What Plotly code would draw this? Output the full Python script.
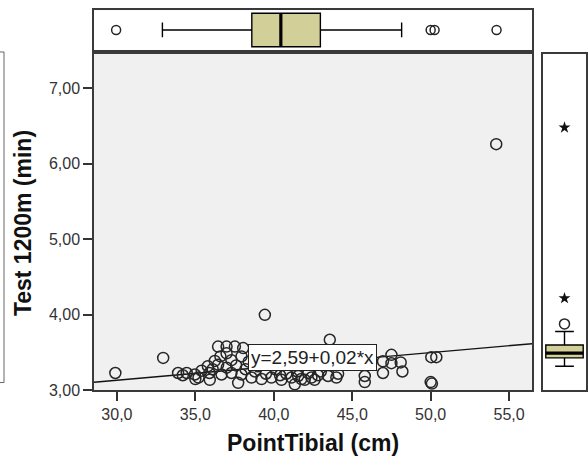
import plotly.graph_objects as go

W, H = 588, 469

# ---------------- data ----------------
point_tibial = [29.9, 32.95, 33.9, 34.45, 34.97, 35.0, 35.2, 35.4, 35.8, 35.9,
                35.92, 36.24, 36.45, 36.45, 36.67, 36.99, 36.99, 37.3, 37.52, 37.73,
                37.94, 37.94, 38.05, 38.58, 39.22, 39.43, 39.85, 40.49, 41.13, 41.34,
                41.55, 41.76, 41.97, 42.4, 42.82, 43.46, 43.57, 43.99, 45.8, 45.8,
                46.96, 46.96, 47.5, 47.5, 48.09, 48.2, 50.04, 50.36, 50.0, 50.08,
                54.18, 37.3, 37.6, 38.2, 38.8, 39.5, 40.1, 40.8, 41.5, 42.2,
                43.0, 44.1, 36.1, 34.2, 38.4, 39.0, 37.0, 36.6, 40.4, 42.6]
test_1200m = [3.23, 3.43, 3.23, 3.23, 3.21, 3.15, 3.17, 3.26, 3.32, 3.23,
              3.14, 3.39, 3.34, 3.58, 3.21, 3.58, 3.49, 3.23, 3.58, 3.10,
              3.45, 3.21, 3.56, 3.17, 3.15, 4.00, 3.17, 3.14, 3.17, 3.08,
              3.19, 3.15, 3.14, 3.17, 3.20, 3.19, 3.67, 3.17, 3.19, 3.11,
              3.23, 3.385, 3.47, 3.36, 3.37, 3.25, 3.44, 3.44, 3.11, 3.09,
              6.26, 3.40, 3.33, 3.28, 3.25, 3.22, 3.28, 3.22, 3.25, 3.23,
              3.25, 3.22, 3.28, 3.20, 3.38, 3.32, 3.30, 3.45, 3.20, 3.14]

# marginal boxplot of PointTibial (top)
tib_q1, tib_median, tib_q3 = 38.6, 40.45, 42.97
tib_lowerfence, tib_upperfence = 32.9, 48.15
tib_outliers = [29.95, 50.0, 50.25, 54.2]

# marginal boxplot of Test 1200m (right)
test_q1, test_median, test_q3 = 3.43, 3.494, 3.60
test_lowerfence, test_upperfence = 3.32, 3.78
test_outliers = [3.88]
test_extremes = [4.22, 6.48]

# fit line
fit_intercept = 2.585
fit_slope = 0.0183
fit_label = "y=2,59+0,02*x"

x_range = [28.54, 56.46]
y_range = [3.0, 7.455]
x_ticks = [30, 35, 40, 45, 50, 55]
y_ticks = [3, 4, 5, 6, 7]

x_title = "PointTibial (cm)"
y_title = "Test 1200m (min)"

# ---------------- styling ----------------
FONT = "Liberation Sans, Arial, sans-serif"
BOX_FILL = "#D3CF98"
FRAME = "#3a3a3a"
MARK = "#262626"


def dom_x(a, b):
    return [a / W, b / W]


def dom_y(top, bottom):
    return [(H - bottom) / H, (H - top) / H]


fig = go.Figure()

# regression line
fig.add_trace(go.Scatter(
    x=x_range, y=[fit_intercept + fit_slope * v for v in x_range],
    mode="lines", line=dict(color="#111111", width=1.4),
    xaxis="x", yaxis="y", hoverinfo="skip", showlegend=False))

# scatter points
fig.add_trace(go.Scatter(
    x=point_tibial, y=test_1200m, mode="markers",
    marker=dict(symbol="circle-open", size=11, color=MARK, line=dict(width=1.5, color=MARK)),
    xaxis="x", yaxis="y", showlegend=False))

# top boxplot
BW_TOP = 0.85
fig.add_trace(go.Box(
    y=[0], q1=[tib_q1], median=[tib_median], q3=[tib_q3],
    lowerfence=[tib_lowerfence], upperfence=[tib_upperfence],
    orientation="h", xaxis="x2", yaxis="y2", fillcolor=BOX_FILL,
    line=dict(color="black", width=1.4), width=BW_TOP, whiskerwidth=0.44,
    boxpoints=False, hoverinfo="skip", showlegend=False))
fig.add_trace(go.Scatter(
    x=[tib_median, tib_median], y=[-BW_TOP / 2, BW_TOP / 2], mode="lines",
    line=dict(color="black", width=3.2), xaxis="x2", yaxis="y2",
    hoverinfo="skip", showlegend=False))
fig.add_trace(go.Scatter(
    x=tib_outliers, y=[0] * len(tib_outliers), mode="markers",
    marker=dict(symbol="circle-open", size=9, color=MARK, line=dict(width=1.5, color=MARK)),
    xaxis="x2", yaxis="y2", showlegend=False))

# right boxplot
BW_R = 0.87
fig.add_trace(go.Box(
    x=[0], q1=[test_q1], median=[test_median], q3=[test_q3],
    lowerfence=[test_lowerfence], upperfence=[test_upperfence],
    orientation="v", xaxis="x3", yaxis="y3", fillcolor=BOX_FILL,
    line=dict(color="black", width=1.4), width=BW_R, whiskerwidth=0.5,
    boxpoints=False, hoverinfo="skip", showlegend=False))
fig.add_trace(go.Scatter(
    x=[-BW_R / 2, BW_R / 2], y=[test_median, test_median], mode="lines",
    line=dict(color="black", width=3.2), xaxis="x3", yaxis="y3",
    hoverinfo="skip", showlegend=False))
fig.add_trace(go.Scatter(
    x=[0] * len(test_outliers), y=test_outliers, mode="markers",
    marker=dict(symbol="circle-open", size=10, color=MARK, line=dict(width=1.5, color=MARK)),
    xaxis="x3", yaxis="y3", showlegend=False))
fig.add_trace(go.Scatter(
    x=[0] * len(test_extremes), y=test_extremes, mode="markers",
    marker=dict(symbol="star", size=9, color="#111111", line=dict(width=0)),
    xaxis="x3", yaxis="y3", showlegend=False))

frame = dict(showline=True, linecolor=FRAME, linewidth=1.5, mirror=True,
             showgrid=False, zeroline=False)
hidden = dict(showticklabels=False, ticks="")

fig.update_layout(
    width=W, height=H, margin=dict(l=0, r=0, t=0, b=0),
    paper_bgcolor="white", plot_bgcolor="#F0F0F0",
    separators=",.", showlegend=False,
    font=dict(family=FONT, size=16, color="#333333"),
    xaxis=dict(domain=dom_x(94, 532), range=x_range, anchor="y",
               tickvals=x_ticks, tickformat=".1f", ticks="outside", ticklen=9,
               tickwidth=1.5, tickcolor="#333333",
               tickfont=dict(family=FONT, size=16, color="#333333"), **frame),
    yaxis=dict(domain=dom_y(55, 398), range=y_range, anchor="x",
               tickvals=y_ticks, tickformat=".2f", ticks="outside", ticklen=9,
               tickwidth=1.5, tickcolor="#333333",
               tickfont=dict(family=FONT, size=16, color="#333333"), **frame),
    xaxis2=dict(domain=dom_x(94, 532), range=x_range, anchor="y2", **hidden, **frame),
    yaxis2=dict(domain=dom_y(10.5, 50.6), range=[-0.5, 0.5], anchor="x2", **hidden, **frame),
    xaxis3=dict(domain=dom_x(543, 586), range=[-0.5, 0.5], anchor="y3", **hidden, **frame),
    yaxis3=dict(domain=dom_y(55, 398), range=y_range, anchor="x3", **hidden, **frame),
)

# the grey background only for the scatter; marginal panels are white
fig.add_shape(type="rect", xref="x2 domain", yref="y2 domain", x0=0, x1=1, y0=0, y1=1,
              fillcolor="white", line=dict(width=0), layer="below")
fig.add_shape(type="rect", xref="x3 domain", yref="y3 domain", x0=0, x1=1, y0=0, y1=1,
              fillcolor="white", line=dict(width=0), layer="below")

# partial frame at the far left (edge of a neighbouring panel)
fig.add_shape(type="rect", xref="paper", yref="paper",
              x0=-0.05, x1=4 / W, y0=(H - 390) / H, y1=(H - 53) / H,
              line=dict(color="#666666", width=1), fillcolor="rgba(0,0,0,0)")

# axis titles
fig.add_annotation(text=f"<b>{x_title}</b>", xref="paper", yref="paper",
                   x=313 / W, y=(H - 452) / H, xanchor="center", yanchor="middle",
                   showarrow=False, font=dict(family=FONT, size=23, color="#111111"))
fig.add_annotation(text=f"<b>{y_title}</b>", xref="paper", yref="paper",
                   x=22.5 / W, y=(H - 228) / H, xanchor="center", yanchor="middle",
                   showarrow=False, textangle=-90,
                   font=dict(family=FONT, size=23, color="#111111"))

# fit label
fig.add_annotation(text=fit_label, xref="paper", yref="paper",
                   x=312.5 / W, y=(H - 364) / H, xanchor="center", yanchor="middle",
                   showarrow=False, font=dict(family=FONT, size=19, color="#222222"),
                   bgcolor="white", bordercolor="#222222", borderwidth=1, borderpad=2)

fig.write_html("out.html")
